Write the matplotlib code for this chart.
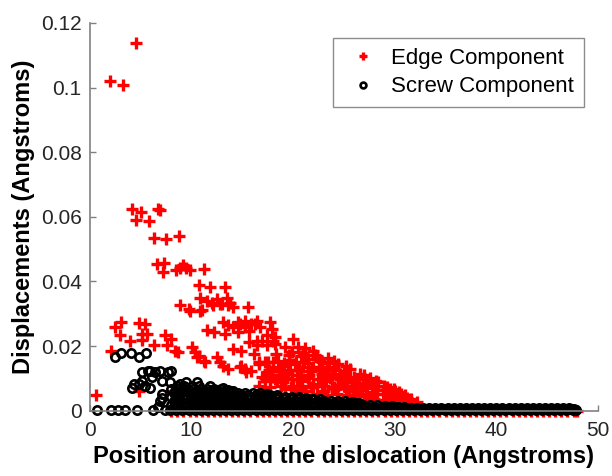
import matplotlib.pyplot as plt
from matplotlib.ticker import FuncFormatter

plt.rcParams['font.family'] = ['Liberation Sans', 'DejaVu Sans']

# ---- Edge component (red +) ----
edge_x = [2.0, 3.3, 4.5,
          4.1, 5.0, 4.5, 5.8, 6.7, 6.9,
          6.3, 7.5, 8.8,
          6.6, 7.3, 7.2, 8.5, 8.9, 9.2, 9.5, 9.8, 11.2,
          10.7, 11.8, 13.3,
          10.8, 11.5, 12.0, 12.5, 13.0, 13.5, 13.8, 14.1,
          8.9, 9.7, 11.0, 9.8, 10.8, 12.1, 12.8, 13.6, 15.6,
          2.5, 3.1, 3.0, 3.9, 4.8, 5.4, 5.1, 5.6, 5.1, 6.3, 7.4, 8.0, 7.6, 8.7, 2.1, 0.6, 4.8,
          8.4, 10.0, 10.3, 10.5, 10.7, 11.2, 11.3,
          11.5, 12.2, 13.1, 13.3, 13.6, 14.1, 14.6, 14.8, 14.6, 15.3, 15.3, 15.7, 15.9, 16.4,
          16.7, 17.7, 17.9, 16.2,
          12.5, 12.8, 13.1, 13.6, 14.1, 14.9, 15.7, 16.4, 16.1, 16.9, 17.4, 18.0, 16.4, 18.2,
          18.2, 17.4, 19.2, 20.0, 20.5, 19.9, 20.8, 21.5, 22.0, 22.3, 22.8, 24.4,
          14.8, 14.9, 15.3, 15.4, 15.9, 16.6, 16.6, 17.2, 17.5, 17.4, 18.0, 18.5, 19.0, 20.2,
          21.0, 21.8, 22.8, 23.8, 24.8,
          17.7, 18.4, 16.9, 17.9, 18.9, 19.9, 20.8, 22.0, 22.8, 23.8, 17.2, 19.2, 21.2, 8.1,
          18.7, 19.5, 20.5, 21.5, 20.0, 23.0, 22.5, 23.3, 24.0, 23.2, 24.2, 24.8, 25.0, 25.3,
          25.5, 25.6, 25.8, 26.0, 26.5, 26.6, 26.8, 26.9, 27.2, 27.5, 27.8, 27.9, 28.4, 28.8,
          28.9, 29.5, 29.8, 30.0, 30.6, 30.8, 31.2, 31.6, 31.8, 32.2,
          21.2, 23.4, 24.0, 25.2, 27.0, 27.6, 28.2, 29.2, 29.9, 30.4, 31.0, 19.6, 21.1, 22.0,
          23.0, 24.6, 20.4, 21.6, 22.4, 19.0, 20.6, 21.8, 26.2, 27.2, 28.3, 29.3, 30.2, 24.4,
          25.2]
edge_y = [0.102, 0.1008, 0.1138,
          0.0625, 0.0615, 0.059, 0.0587, 0.0625, 0.062,
          0.0535, 0.0532, 0.054,
          0.0455, 0.0457, 0.043, 0.0434, 0.0442, 0.045, 0.0442, 0.0434, 0.0439,
          0.0388, 0.0384, 0.0384,
          0.035, 0.0341, 0.0333, 0.0346, 0.0329, 0.035, 0.0333, 0.0321,
          0.0326, 0.0315, 0.0312, 0.031, 0.031, 0.0326, 0.0331, 0.0326, 0.0322,
          0.026, 0.0274, 0.0233, 0.0217, 0.0271, 0.0267, 0.0238, 0.0236, 0.0219, 0.0202, 0.0233,
          0.0222, 0.0202, 0.0181, 0.0186, 0.005, 0.006,
          0.0186, 0.0196, 0.0181, 0.0165, 0.0171, 0.0155, 0.015,
          0.0251, 0.0243, 0.0274, 0.0238, 0.0264, 0.0258, 0.0274, 0.0269, 0.0243, 0.0279, 0.0258,
          0.0248, 0.0269, 0.0279, 0.0258, 0.0274, 0.0253, 0.0269,
          0.0165, 0.015, 0.014, 0.0129, 0.0191, 0.0186, 0.0212, 0.0202, 0.0176, 0.0217, 0.0202,
          0.0217, 0.0217, 0.0207, 0.0227, 0.0233, 0.0196, 0.0222, 0.0196, 0.0181, 0.0171, 0.016,
          0.0186, 0.0171, 0.015, 0.0145,
          0.0134, 0.014, 0.0129, 0.0119, 0.0124, 0.015, 0.0145, 0.015, 0.015, 0.0119, 0.0134,
          0.0155, 0.014, 0.0145, 0.0134, 0.0124, 0.0114, 0.0109, 0.0103,
          0.0093, 0.0098, 0.0103, 0.0103, 0.0109, 0.0098, 0.0093, 0.0083, 0.0078, 0.0072, 0.0072,
          0.0067, 0.0062, 0.0062,
          0.0125, 0.0118, 0.011, 0.0103, 0.0078, 0.0062, 0.0134, 0.0125, 0.0134, 0.0093, 0.0067,
          0.0088, 0.012, 0.0098, 0.0062, 0.013, 0.0078, 0.0105, 0.0052, 0.0114, 0.0067, 0.0098,
          0.0046, 0.0093, 0.0057, 0.0083, 0.0088, 0.0052, 0.0078, 0.0067, 0.0046, 0.0062, 0.0052,
          0.0036, 0.0041, 0.0036, 0.0021, 0.0026,
          0.0195, 0.0163, 0.0155, 0.0138, 0.011, 0.0102, 0.0092, 0.0075, 0.0066, 0.0057, 0.0048,
          0.0158, 0.015, 0.0135, 0.0108, 0.0115, 0.0125, 0.0112, 0.0098, 0.0088, 0.0078, 0.0075,
          0.0085, 0.0072, 0.0065, 0.0055, 0.0042, 0.0078, 0.0072]

# more edge points filling the dense red triangle (x 16-32)
edge_fill_x = [18.3, 19.6, 21.0, 22.2,
               18.0, 19.1, 20.3, 21.5, 22.6, 23.5,
               17.6, 18.6, 19.7, 20.8, 21.9, 23.0, 24.1, 25.0,
               17.2, 18.2, 19.3, 20.4, 21.5, 22.6, 23.6, 24.6, 25.6, 26.5,
               16.6, 17.7, 18.8, 19.8, 20.9, 22.0, 23.0, 24.0, 25.0, 26.0, 27.0, 28.0,
               20.3, 21.3, 22.3, 23.3, 24.3, 25.3, 26.3, 27.3, 28.3, 29.3, 30.1,
               26.0, 27.0, 28.0, 29.0, 30.0, 30.9, 31.5]
edge_fill_y = [0.0176, 0.0173, 0.0178, 0.0172,
               0.0151, 0.0148, 0.0152, 0.0149, 0.0153, 0.0147,
               0.0126, 0.0123, 0.0127, 0.0124, 0.0126, 0.0122, 0.0127, 0.0123,
               0.0101, 0.0098, 0.0102, 0.0099, 0.0101, 0.0097, 0.0102, 0.0099, 0.0101, 0.0098,
               0.0076, 0.0074, 0.0077, 0.0073, 0.0076, 0.0074, 0.0077, 0.0073, 0.0076, 0.0074,
               0.0077, 0.0073,
               0.0052, 0.0049, 0.0051, 0.0048, 0.0052, 0.0049, 0.0051, 0.0048, 0.0052, 0.0049,
               0.0047,
               0.0036, 0.0034, 0.0036, 0.0033, 0.0035, 0.0032, 0.0030]

# edge points lying on zero displacement (red line under the black band)
edge_floor_x = [8.0, 8.6, 9.2, 9.8, 10.4, 11.0, 11.6, 12.2, 12.8, 13.4, 14.0, 14.6, 15.2,
                15.8, 16.4, 17.0, 17.6, 18.2, 18.8, 19.4, 20.0, 20.6, 21.2, 21.8, 22.4,
                23.0, 23.6, 24.2, 24.8, 25.4, 26.0, 26.6, 27.2, 27.8, 28.4, 29.0, 29.6,
                30.2, 30.8, 31.4, 32.0, 32.6, 33.2, 33.8, 34.4, 35.0, 35.6, 36.2, 36.8,
                37.4, 38.0, 38.6, 39.2, 39.8, 40.4, 41.0, 41.6, 42.2, 42.8, 43.4, 44.0,
                44.6, 45.2, 45.8, 46.4, 47.0, 47.6, 47.9]
edge_floor_y = 0.0

# ---- Screw component (black o) ----
screw_x = [0.65, 2.1, 2.8, 3.4, 4.6, 6.2, 7.4,
           2.5, 3.1, 4.0, 4.8, 5.5,
           5.1, 5.9, 6.9, 7.7, 5.1, 5.4, 6.1, 7.1, 4.1, 4.8, 6.9, 7.1, 5.7, 6.4, 8.0, 4.3,
           5.9, 7.9, 7.1, 6.7,
           8.9, 9.5, 10.5, 11.8, 13.1, 14.1,
           29.0, 29.7, 30.4, 31.1, 25.1, 25.8, 26.5, 21.3, 22.0, 17.4, 13.6]
screw_y = [0.0002, 0.0002, 0.0002, 0.0002, 0.0002, 0.0002, 0.0002,
           0.0165, 0.0178, 0.0178, 0.0165, 0.0178,
           0.0119, 0.0124, 0.0124, 0.0119, 0.0093, 0.0078, 0.0103, 0.0093, 0.007, 0.0083, 0.0031,
           0.0052, 0.0124, 0.0119, 0.0124, 0.0083, 0.0072, 0.0088, 0.0039, 0.0013,
           0.0083, 0.0088, 0.0088, 0.0078, 0.0072, 0.0062,
           0.0016, 0.0014, 0.0012, 0.001, 0.0029, 0.0027, 0.0024, 0.004, 0.0038, 0.0052, 0.0063]

# dense band of screw points near zero, stored row by row (row height, positions)
band_a_y = 0.0002
band_a_x = [7.9, 8.5, 9.1, 9.7, 10.3, 10.9, 11.5, 12.1, 12.7, 13.3, 13.9, 14.5, 15.1, 15.7,
            16.3, 16.9, 17.5, 18.1, 18.7, 19.3, 19.9, 20.5, 21.1, 21.7, 22.3, 22.9, 23.5,
            24.1, 24.7, 25.3, 25.9, 26.5, 27.1, 27.7, 28.3, 28.9, 29.5, 30.1, 30.7, 31.3,
            31.9, 32.5, 33.1, 33.7, 34.3, 34.9, 35.5, 36.1, 36.7, 37.3, 37.9, 38.5, 39.1,
            39.7, 40.3, 40.9, 41.5, 42.1, 42.7, 43.3, 43.9, 44.5, 45.1, 45.7, 46.3, 46.9,
            47.5, 47.8]
band_a2_y = 0.0005
band_a2_x = [32.05, 32.35, 32.65, 32.95, 33.25, 33.55, 33.85, 34.15, 34.45, 34.75, 35.05,
             35.35, 35.65, 35.95, 36.25, 36.55, 36.85, 37.15, 37.45, 37.75, 38.05, 38.35,
             38.65, 38.95, 39.25, 39.55, 39.85, 40.15, 40.45, 40.75, 41.05, 41.35, 41.65,
             41.95, 42.25, 42.55, 42.85, 43.15, 43.45, 43.75, 44.05, 44.35, 44.65, 44.95,
             45.25, 45.55, 45.85, 46.15, 46.45, 46.75, 47.05, 47.35, 47.65]
band_b_y = 0.0008
band_b_x = [8.2, 8.8, 9.4, 10.0, 10.6, 11.2, 11.8, 12.4, 13.0, 13.6, 14.2, 14.8, 15.4, 16.0,
            16.6, 17.2, 17.8, 18.4, 19.0, 19.6, 20.2, 20.8, 21.4, 22.0, 22.6, 23.2, 23.8,
            24.4, 25.0, 25.6, 26.2, 26.8, 27.4, 28.0, 28.6, 29.2, 29.8, 30.4, 31.0, 31.6,
            32.2, 32.8, 33.4, 34.0, 34.6, 35.2, 35.8, 36.4, 37.0, 37.6, 38.2, 38.8, 39.4,
            40.0, 40.6, 41.2, 41.8, 42.4, 43.0, 43.6, 44.2, 44.8, 45.4, 46.0, 46.6, 47.2]
band_b2_y = 0.0013
band_b2_x = [8.5, 9.2, 9.9, 10.6, 11.3, 12.0, 12.7, 13.4, 14.1, 14.8, 15.5, 16.2, 16.9, 17.6,
             18.3, 19.0, 19.7, 20.4, 21.1, 21.8, 22.5, 23.2, 23.9, 24.6, 25.3, 26.0, 26.7,
             27.4, 28.1, 28.8, 29.5, 30.2, 30.9]
band_c_y = 0.0019
band_c_x = [8.0, 8.7, 9.4, 10.1, 10.8, 11.5, 12.2, 12.9, 13.6, 14.3, 15.0, 15.7, 16.4, 17.1,
            17.8, 18.5, 19.2, 19.9, 20.6, 21.3, 22.0, 22.7, 23.4, 24.1, 24.8, 25.5, 26.2,
            26.9, 27.6, 28.3]
band_c2_y = 0.0025
band_c2_x = [8.6, 9.3, 10.0, 10.7, 11.4, 12.1, 12.8, 13.5, 14.2, 14.9, 15.6, 16.3, 17.0, 17.7,
             18.4, 19.1, 19.8, 20.5, 21.2, 21.9, 22.6, 23.3, 24.0, 24.7, 25.4, 26.1]
band_d_y = 0.0031
band_d_x = [8.3, 9.0, 9.7, 10.4, 11.1, 11.8, 12.5, 13.2, 13.9, 14.6, 15.3, 16.0, 16.7, 17.4,
            18.1, 18.8, 19.5, 20.2, 20.9, 21.6, 22.3, 23.0, 23.7, 24.4]
band_d2_y = 0.0037
band_d2_x = [8.6, 9.3, 10.0, 10.7, 11.4, 12.1, 12.8, 13.5, 14.2, 14.9, 15.6, 16.3, 17.0, 17.7,
             18.4, 19.1, 19.8, 20.5, 21.2, 21.9, 22.6]
band_e_y = 0.0043
band_e_x = [8.0, 8.7, 9.4, 10.1, 10.8, 11.5, 12.2, 12.9, 13.6, 14.3, 15.0, 15.7, 16.4, 17.1,
            17.8, 18.5, 19.2, 19.9, 20.6]
band_e2_y = 0.0049
band_e2_x = [8.6, 9.3, 10.0, 10.7, 11.4, 12.1, 12.8, 13.5, 14.2, 14.9, 15.6, 16.3, 17.0, 17.7,
             18.4]
band_f_y = 0.0055
band_f_x = [8.3, 9.0, 9.7, 10.4, 11.1, 11.8, 12.5, 13.2, 13.9, 14.6, 15.3, 16.0, 16.7]
band_f2_y = 0.0061
band_f2_x = [8.4, 9.1, 9.8, 10.5, 11.2, 11.9, 12.6, 13.3, 14.0]
band_g_y = 0.0067
band_g_x = [8.0, 8.7, 9.4, 10.1, 10.8, 11.5, 12.2, 12.9]
band_h_y = 0.0077
band_h_x = [8.6, 9.3, 10.0, 10.7]

x_ticks = [0, 10, 20, 30, 40, 50]
y_ticks = [0, 0.02, 0.04, 0.06, 0.08, 0.1, 0.12]

ex = edge_x + edge_fill_x + edge_floor_x
ey = edge_y + edge_fill_y + [edge_floor_y] * len(edge_floor_x)

sx = list(screw_x)
sy = list(screw_y)
for yv, xs in [(band_a_y, band_a_x), (band_a2_y, band_a2_x), (band_b_y, band_b_x),
               (band_b2_y, band_b2_x), (band_c_y, band_c_x), (band_c2_y, band_c2_x),
               (band_d_y, band_d_x), (band_d2_y, band_d2_x), (band_e_y, band_e_x),
               (band_e2_y, band_e2_x), (band_f_y, band_f_x), (band_f2_y, band_f2_x),
               (band_g_y, band_g_x), (band_h_y, band_h_x)]:
    sx += xs
    sy += [yv] * len(xs)

fig = plt.figure(figsize=(6.12, 4.76), dpi=100)
ax = fig.add_axes([0.147, 0.137, 0.830, 0.815])

ax.plot(ex, ey, linestyle='none', marker='+', color='red', ms=8.5, mew=2.4,
        clip_on=False, label='Edge Component')
ax.plot(sx, sy, linestyle='none', marker='o', mfc='none', mec='black', ms=6.0, mew=1.9,
        clip_on=False, label='Screw Component')

ax.set_xlim(0, 50)
ax.set_ylim(0, 0.12)
ax.set_xticks(x_ticks)
ax.set_yticks(y_ticks)
ax.yaxis.set_major_formatter(FuncFormatter(lambda v, p: '%g' % v))

ax.spines['top'].set_visible(False)
ax.spines['right'].set_visible(False)
for s in ['left', 'bottom']:
    ax.spines[s].set_color('#808080')
    ax.spines[s].set_linewidth(1.2)
ax.tick_params(direction='in', length=4, width=1, color='#808080',
               labelcolor='#262626', labelsize=15)
ax.tick_params(axis='x', pad=7)
ax.tick_params(axis='y', pad=6)

ax.set_xlabel('Position around the dislocation (Angstroms)', fontsize=17, fontweight='bold')
ax.set_ylabel('Displacements (Angstroms)', fontsize=17, fontweight='bold')

leg = ax.legend(loc='upper right', bbox_to_anchor=(0.972, 0.962), borderaxespad=0,
                fontsize=16, markerscale=0.7, fancybox=False, framealpha=1,
                edgecolor='#8c8c8c', handlelength=1.8, handletextpad=0.35,
                borderpad=0.45, labelspacing=0.35)
leg.get_frame().set_linewidth(1.0)

fig.savefig('out.png', dpi=100)
